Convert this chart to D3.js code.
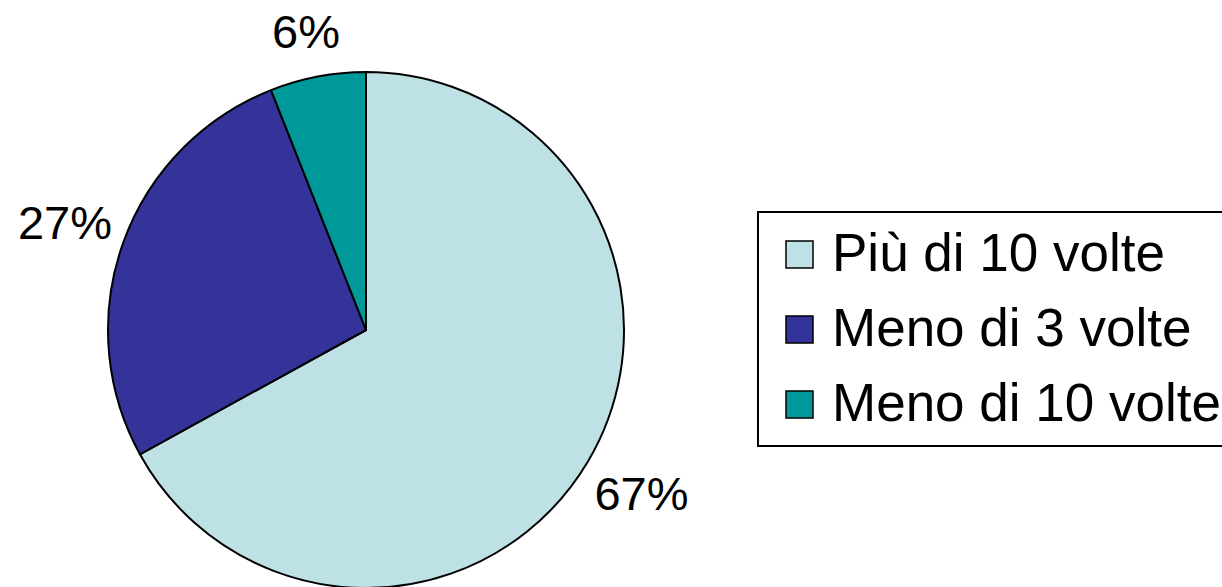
<!DOCTYPE html>
<html>
<head>
<meta charset="utf-8">
<script src="https://cdn.jsdelivr.net/npm/d3@7"></script>
<style>
  html, body { margin: 0; padding: 0; background: #fff; }
  svg { display: block; font-family: "Liberation Sans", Arial, sans-serif; }
</style>
</head>
<body>
<svg id="chart" width="1222" height="587"></svg>
<script>
// Frequenza: quote percentuali per categoria
const categories = ["Più di 10 volte", "Meno di 3 volte", "Meno di 10 volte"];
const values = [67, 27, 6];
const colors = ["#BDE1E4", "#333399", "#009999"];

const svg = d3.select("#chart");
const cx = 366, cy = 330, R = 258;

const pie = d3.pie().sort(null).value(d => d)(values);
const arc = d3.arc().innerRadius(0).outerRadius(R);
const labelArc = d3.arc().innerRadius(320).outerRadius(320);

const g = svg.append("g").attr("transform", `translate(${cx},${cy})`);

g.selectAll("path.slice")
  .data(pie)
  .join("path")
  .attr("class", "slice")
  .attr("d", arc)
  .attr("fill", (d, i) => colors[i])
  .attr("stroke", "#000")
  .attr("stroke-width", 2)
  .attr("stroke-linejoin", "round");

// Percent labels outside the pie, kept inside the drawing area
const fontSize = 47;
g.selectAll("text.pct")
  .data(pie)
  .join("text")
  .attr("class", "pct")
  .attr("text-anchor", "middle")
  .attr("font-size", fontSize)
  .attr("fill", "#000")
  .attr("x", d => labelArc.centroid(d)[0])
  .attr("y", d => {
    const y = labelArc.centroid(d)[1];
    const minY = 31 - cy; // keep the label clear of the top edge
    return Math.max(y, minY) + fontSize * 0.36;
  })
  .text(d => d.data + "%");

// Legend
const lg = svg.append("g");
const lx = 758, ly = 212, lw = 480, lh = 234;
lg.append("rect")
  .attr("x", lx).attr("y", ly)
  .attr("width", lw).attr("height", lh)
  .attr("fill", "#fff")
  .attr("stroke", "#000")
  .attr("stroke-width", 2);

const rowY = d3.scalePoint().domain(categories).range([254, 404]);
const rows = lg.selectAll("g.item")
  .data(categories)
  .join("g")
  .attr("class", "item")
  .attr("transform", d => `translate(0,${rowY(d)})`);

rows.append("rect")
  .attr("x", 786).attr("y", -13)
  .attr("width", 27).attr("height", 27)
  .attr("fill", (d, i) => colors[i])
  .attr("stroke", "#000")
  .attr("stroke-width", 1.5);

rows.append("text")
  .attr("x", 832)
  .attr("y", 17)
  .attr("font-size", 53)
  .attr("fill", "#000")
  .text(d => d);
</script>
</body>
</html>
